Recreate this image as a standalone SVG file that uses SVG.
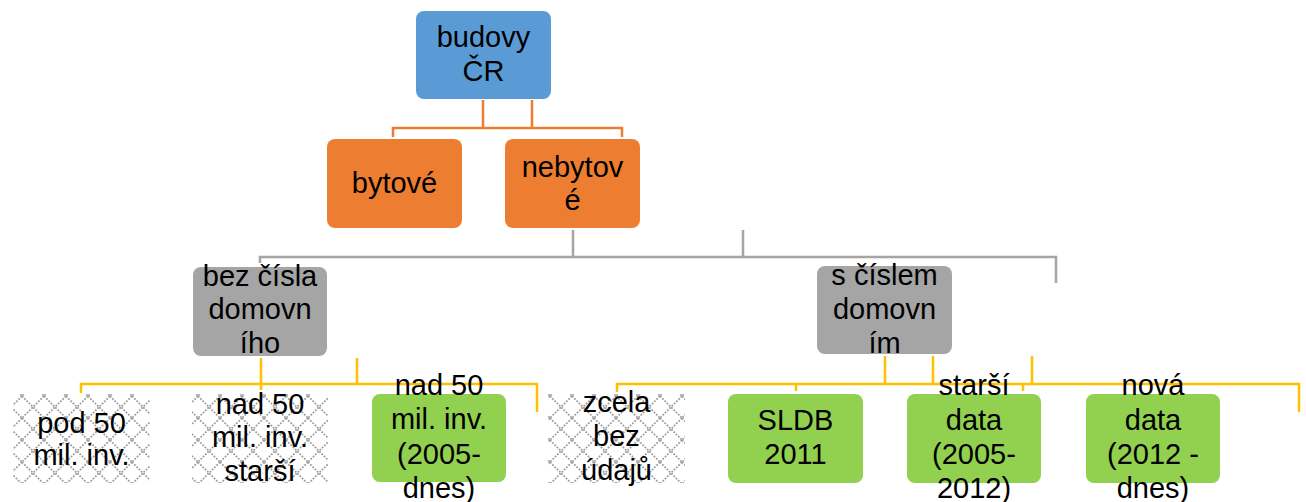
<svg xmlns="http://www.w3.org/2000/svg" width="1306" height="502" viewBox="0 0 1306 502">
<style>
text{font-family:"Liberation Sans",Arial,sans-serif;font-size:29px;fill:#000;text-anchor:middle}
.c{fill:none;stroke-width:2.5}
.o{stroke:#ED7D31}.g{stroke:#A5A5A5}.y{stroke:#FFC000}
.blue{fill:#5B9BD5}.orange{fill:#ED7D31}.gray{fill:#A5A5A5}.green{fill:#92D050}
.hat{fill:url(#hatch)}
</style>
<defs>
<pattern id="hatch" patternUnits="userSpaceOnUse" width="22" height="22">
<rect width="22" height="22" fill="#fff"/>
<path d="M0,0L22,22M22,0L0,22" stroke="#9E9E9E" stroke-width="1.8" stroke-dasharray="1.8 1.4"/>
</pattern>
</defs>
<rect width="1306" height="502" fill="#fff"/>
<g id="connectors">
<path class="c o" d="M483,100V128M532,100V128M393,137V128H622V137"/>
<path class="c g" d="M573,230V257M743,230V257M260,263V257H1056V283"/>
<path class="c y" d="M261,358V390M357,358V384M81,393V384H537V412"/>
<path class="c y" d="M885,356V384M933,356V384M1032,356V384M617,392V384H1299V412M796,384V391M1023,384V391"/>
</g>
<g id="n-budovy"><rect class="blue" x="416" y="11" width="135" height="88" rx="8"/><text x="483.5" y="47">budovy</text><text x="483.5" y="81">ČR</text></g>
<g id="n-bytove"><rect class="orange" x="327" y="139" width="135" height="89" rx="8"/><text x="394.5" y="193">bytové</text></g>
<g id="n-nebytove"><rect class="orange" x="505" y="139" width="135" height="89" rx="8"/><text x="572.5" y="177">nebytov</text><text x="572.5" y="210">é</text></g>
<g id="n-bez"><rect class="gray" x="193" y="267" width="134" height="89" rx="8"/><text x="260" y="286">bez čísla</text><text x="260" y="319">domovn</text><text x="260" y="353">ího</text></g>
<g id="n-s"><rect class="gray" x="817" y="266" width="135" height="88" rx="8"/><text x="884.5" y="285">s číslem</text><text x="884.5" y="319">domovn</text><text x="884.5" y="353">ím</text></g>
<g id="n-pod50"><rect class="hat" x="13" y="394" width="137" height="89"/><text x="81.5" y="433">pod 50</text><text x="81.5" y="465">mil. inv.</text></g>
<g id="n-nad50s"><rect class="hat" x="192" y="394" width="136" height="89"/><text x="260" y="414">nad 50</text><text x="260" y="447">mil. inv.</text><text x="260" y="481">starší</text></g>
<g id="n-nad50n"><rect class="green" x="372" y="394" width="134" height="88" rx="8"/><text x="439" y="395">nad 50</text><text x="439" y="429">mil. inv.</text><text x="439" y="464">(2005-</text><text x="439" y="498">dnes)</text></g>
<g id="n-zcela"><rect class="hat" x="548" y="394" width="137" height="89"/><text x="616.5" y="412">zcela</text><text x="616.5" y="446">bez</text><text x="616.5" y="480">údajů</text></g>
<g id="n-sldb"><rect class="green" x="728" y="394" width="135" height="89" rx="8"/><text x="795.5" y="430">SLDB</text><text x="795.5" y="464">2011</text></g>
<g id="n-starsi"><rect class="green" x="907" y="394" width="134" height="89" rx="8"/><text x="974" y="395">starší</text><text x="974" y="430">data</text><text x="974" y="464">(2005-</text><text x="974" y="498">2012)</text></g>
<g id="n-nova"><rect class="green" x="1086" y="394" width="134" height="89" rx="8"/><text x="1153" y="395">nová</text><text x="1153" y="430">data</text><text x="1153" y="464">(2012 -</text><text x="1153" y="498">dnes)</text></g>
</svg>
